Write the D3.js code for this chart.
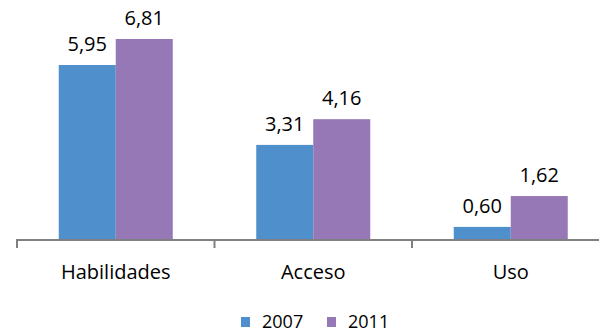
<!DOCTYPE html>
<html><head><meta charset="utf-8">
<script src="https://cdn.jsdelivr.net/npm/d3@7"></script>
<style>body{margin:0;background:#fff}svg{display:block}text{font-family:"Open Sans",sans-serif;fill:#000}</style>
</head><body>
<script>
const categories = ["Habilidades", "Acceso", "Uso"];
const seriesNames = ["2007", "2011"];
const values2007 = [5.95, 3.31, 0.60];
const values2011 = [6.81, 4.16, 1.62];
const colors = ["#4E8FCC", "#9678B6"];
const fmt = v => v.toFixed(2).replace(".", ",");

const W = 599, H = 333;
const svg = d3.select("body").append("svg").attr("width", W).attr("height", H);

const baseY = 239, topY = 39;
const x = d3.scaleBand().domain(categories).range([17, 609.5]).padding(0);
const bw = x.bandwidth();
const groupW = 114;
const xs = d3.scaleBand().domain(seriesNames).range([(bw - groupW) / 2, (bw + groupW) / 2]).padding(0);
const y = d3.scaleLinear().domain([0.2, 6.81]).range([baseY, topY]);

const data = [];
categories.forEach((c, i) => {
  data.push({c, s: seriesNames[0], v: values2007[i], col: colors[0]});
  data.push({c, s: seriesNames[1], v: values2011[i], col: colors[1]});
});

svg.selectAll("rect.bar").data(data).enter().append("rect")
  .attr("class", "bar")
  .attr("x", d => x(d.c) + xs(d.s))
  .attr("y", d => y(d.v))
  .attr("width", xs.bandwidth())
  .attr("height", d => baseY - y(d.v))
  .attr("fill", d => d.col);

svg.selectAll("text.val").data(data).enter().append("text")
  .attr("class", "val")
  .attr("x", d => x(d.c) + xs(d.s) + xs.bandwidth() / 2)
  .attr("y", d => y(d.v) - 14)
  .attr("text-anchor", "middle")
  .attr("font-size", 20)
  .text(d => fmt(d.v));

// axis
const axis = d3.axisBottom(x).tickSize(0).tickPadding(0);
const g = svg.append("g").attr("transform", `translate(0,${baseY + 1})`);
g.append("line").attr("x1", 16).attr("x2", 610).attr("y1", 0).attr("y2", 0)
  .attr("stroke", "#808080").attr("stroke-width", 2);
const bounds = categories.map(c => x(c)).concat([x.range()[1]]);
g.selectAll("line.tick").data(bounds).enter().append("line")
  .attr("x1", d => d).attr("x2", d => d).attr("y1", 0).attr("y2", 8)
  .attr("stroke", "#808080").attr("stroke-width", 2);
g.selectAll("text.cat").data(categories).enter().append("text")
  .attr("class", "cat")
  .attr("x", d => x(d) + bw / 2)
  .attr("y", 279 - baseY - 1)
  .attr("text-anchor", "middle")
  .attr("font-size", 20)
  .text(d => d);

// legend
const legX = [241, 327];
const lg = svg.append("g");
seriesNames.forEach((s, i) => {
  lg.append("rect").attr("x", legX[i]).attr("y", 317).attr("width", 9).attr("height", 10).attr("fill", colors[i]);
  lg.append("text").attr("x", legX[i] + 21).attr("y", 328).attr("font-size", 18).text(s);
});
</script>
</body></html>
